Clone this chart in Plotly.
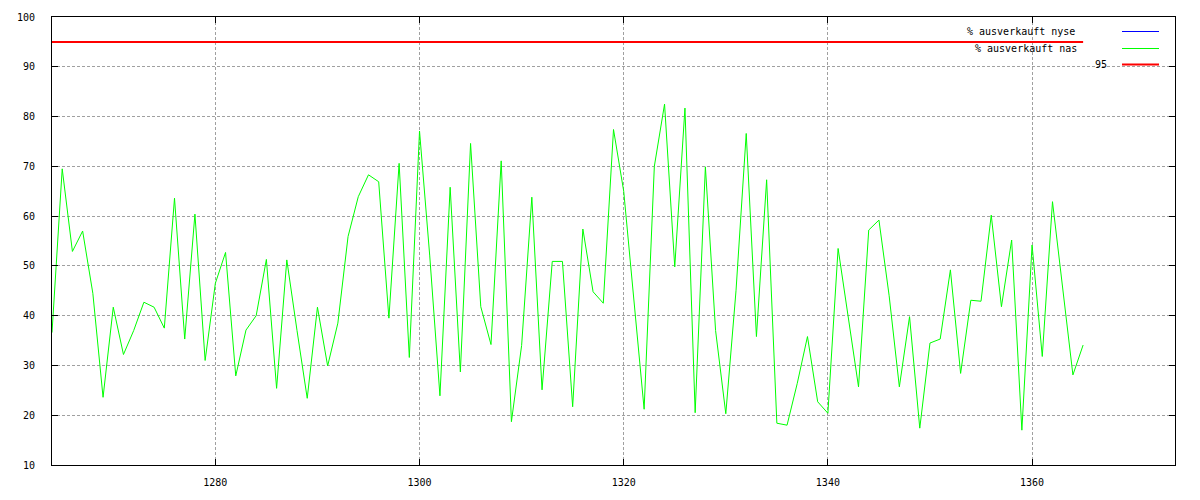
import plotly.graph_objects as go

# ---- data ----
x_start = 1264
nas_values = [
    36.6, 69.5, 52.9, 57.0, 44.5, 23.6, 41.7, 32.2, 37.0, 42.7,   # 1264-1273
    41.7, 37.5, 63.6, 35.3, 60.4, 31.0, 46.5, 52.7, 27.9, 37.1,   # 1274-1283
    40.0, 51.3, 25.4, 51.2, 37.0, 23.4, 41.7, 29.9, 38.5, 55.9,   # 1284-1293
    63.9, 68.3, 66.9, 39.5, 70.6, 31.6, 77.1, 52.0, 23.9, 65.8,   # 1294-1303
    28.7, 74.6, 41.8, 34.2, 71.1, 18.7, 34.0, 63.8, 25.1, 50.9,   # 1304-1313
    50.9, 21.7, 57.4, 44.8, 42.5, 77.4, 65.0, 43.0, 21.2, 70.0,   # 1314-1323
    82.5, 49.8, 81.7, 20.5, 69.9, 37.0, 20.3, 45.0, 76.6, 35.8,   # 1324-1333
    67.3, 18.4, 18.0, 26.4, 35.8, 22.7, 20.4, 53.5, 40.0, 25.7,   # 1334-1343
    57.2, 59.2, 44.0, 25.7, 39.8, 17.4, 34.5, 35.3, 49.2, 28.4,   # 1344-1353
    43.1, 42.9, 60.2, 41.8, 55.2, 17.0, 54.2, 31.8, 62.9, 45.0,   # 1354-1363
    28.1, 34.1,                                                   # 1364-1365
]
days = list(range(x_start, x_start + len(nas_values)))
threshold = 95
threshold_values = [threshold] * len(days)

x_tickvals = [1280, 1300, 1320, 1340, 1360]
y_tickvals = [10, 20, 30, 40, 50, 60, 70, 80, 90, 100]
legend_labels = ["% ausverkauft nyse", "% ausverkauft nas", "95"]
legend_colors = ["#0000ff", "#00ff00", "#ff0000"]
legend_widths = [1, 1, 2]

# ---- layout geometry (screen pixels; page body has an 8px margin) ----
OFF = 8
W, H = 1200, 500
PLOT_L, PLOT_R, PLOT_T, PLOT_B = 52, 1175, 17, 465   # screen coordinates
L = PLOT_L - OFF
T = PLOT_T - OFF
R = W - (PLOT_R - OFF)
B = H - (PLOT_B - OFF)
PW, PH = PLOT_R - PLOT_L, PLOT_B - PLOT_T


def px(xs):
    return (xs - PLOT_L) / PW


def py(ys):
    return (PLOT_B - ys) / PH


FONT = "DejaVu Sans Mono"

fig = go.Figure()
fig.add_trace(go.Scatter(x=days, y=nas_values, mode="lines",
                         line=dict(color="#00ff00", width=1), showlegend=False,
                         hoverinfo="x+y"))
fig.add_trace(go.Scatter(x=days, y=threshold_values, mode="lines",
                         line=dict(color="#ff0000", width=2), showlegend=False))

shapes = [
    # legend background (covers grid, below traces)
    dict(type="rect", xref="paper", yref="paper", x0=px(970), x1=1, y0=py(76), y1=1,
         fillcolor="white", line=dict(width=0), layer="between"),
]
annotations = []
legend_text_right = [1077, 1079, 1109]
legend_row_y = [31, 48, 64]
for lab, col, lw, xr, yr in zip(legend_labels, legend_colors, legend_widths,
                                 legend_text_right, legend_row_y):
    annotations.append(dict(text=lab, xref="paper", yref="paper", x=px(xr), y=py(yr),
                            xanchor="right", yanchor="middle", showarrow=False,
                            font=dict(family=FONT, size=10, color="black")))
    shapes.append(dict(type="line", xref="paper", yref="paper", x0=px(1122), x1=px(1159),
                       y0=py(yr + 0.5), y1=py(yr + 0.5), line=dict(color=col, width=lw),
                       layer="above"))

axis_common = dict(showline=True, linecolor="black", linewidth=1, mirror="ticks",
                   ticks="inside", ticklen=6, tickcolor="black", tickwidth=1,
                   showgrid=True, gridcolor="#a0a0a0", gridwidth=1, griddash="3px,2px",
                   zeroline=False, automargin=False,
                   tickfont=dict(family=FONT, size=10, color="black"))

fig.update_xaxes(range=[1264, 1374], tickvals=x_tickvals, ticklabelstandoff=8, **axis_common)
fig.update_yaxes(range=[10, 100], tickvals=y_tickvals, ticklabelstandoff=14, **axis_common)

fig.update_layout(width=W, height=H, margin=dict(l=L, r=R, t=T, b=B, pad=0, autoexpand=False),
                  paper_bgcolor="white", plot_bgcolor="white",
                  shapes=shapes, annotations=annotations, showlegend=False,
                  font=dict(family=FONT, size=10, color="black"))

fig.write_html("out.html")
